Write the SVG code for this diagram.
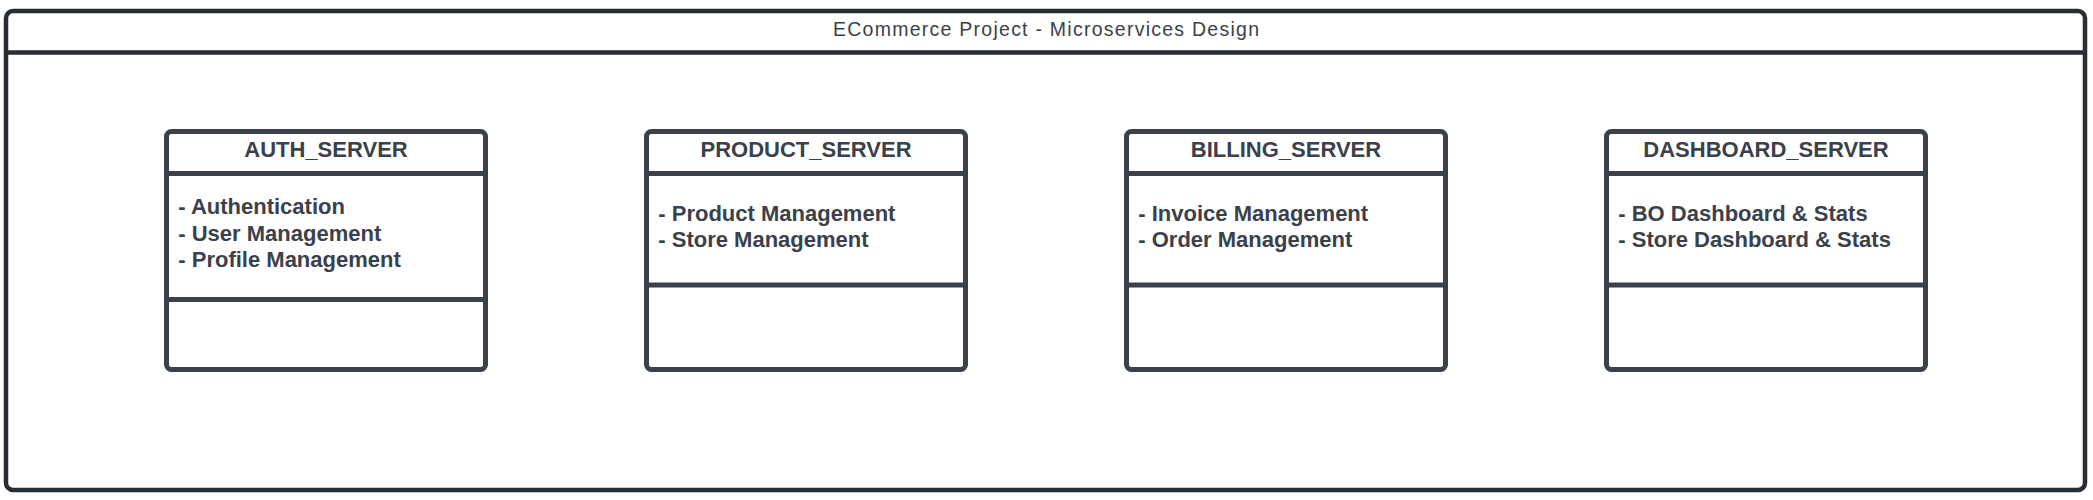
<svg xmlns="http://www.w3.org/2000/svg" width="2093" height="500" viewBox="0 0 2093 500">
<style>
.frame{fill:#fff;stroke:#282c33;stroke-width:4.5}
.box{fill:#fff;stroke:#3a414a;stroke-width:5}
.div{stroke:#3a414a;stroke-width:5}
.title{font-family:"Liberation Sans",Arial,sans-serif;font-size:19.5px;fill:#3a414a;text-anchor:middle}
.hdr{font-family:"Liberation Sans",Arial,sans-serif;font-size:22px;font-weight:bold;fill:#3a414a;text-anchor:middle}
.item{font-family:"Liberation Sans",Arial,sans-serif;font-size:22px;font-weight:bold;fill:#3a414a}
</style>
<rect width="2093" height="500" fill="#fff"/>
<g id="frame">
<rect class="frame" x="6" y="11" width="2079" height="479" rx="7"/>
<line x1="6" y1="52.5" x2="2085" y2="52.5" stroke="#282c33" stroke-width="4.5"/>
<text class="title" x="1046" y="36" textLength="426" lengthAdjust="spacing">ECommerce Project - Microservices Design</text>
</g>
<g id="auth_server">
<rect class="box" x="166.5" y="131.5" width="319" height="238" rx="5"/>
<line class="div" x1="166.5" y1="173.5" x2="485.5" y2="173.5"/>
<line class="div" x1="166.5" y1="299.5" x2="485.5" y2="299.5"/>
<text class="hdr" x="326" y="157.3">AUTH_SERVER</text>
<text class="item" x="178.3" y="214.3">- Authentication</text>
<text class="item" x="178.3" y="240.7">- User Management</text>
<text class="item" x="178.3" y="267">- Profile Management</text>
</g>
<g id="product_server">
<rect class="box" x="646.5" y="131.5" width="319" height="238" rx="5"/>
<line class="div" x1="646.5" y1="173.5" x2="965.5" y2="173.5"/>
<line class="div" x1="646.5" y1="285" x2="965.5" y2="285"/>
<text class="hdr" x="806" y="157.3">PRODUCT_SERVER</text>
<text class="item" x="658.3" y="220.7">- Product Management</text>
<text class="item" x="658.3" y="247.3">- Store Management</text>
</g>
<g id="billing_server">
<rect class="box" x="1126.5" y="131.5" width="319" height="238" rx="5"/>
<line class="div" x1="1126.5" y1="173.5" x2="1445.5" y2="173.5"/>
<line class="div" x1="1126.5" y1="285" x2="1445.5" y2="285"/>
<text class="hdr" x="1286" y="157.3">BILLING_SERVER</text>
<text class="item" x="1138.3" y="220.7">- Invoice Management</text>
<text class="item" x="1138.3" y="247.3">- Order Management</text>
</g>
<g id="dashboard_server">
<rect class="box" x="1606.5" y="131.5" width="319" height="238" rx="5"/>
<line class="div" x1="1606.5" y1="173.5" x2="1925.5" y2="173.5"/>
<line class="div" x1="1606.5" y1="285" x2="1925.5" y2="285"/>
<text class="hdr" x="1766" y="157.3">DASHBOARD_SERVER</text>
<text class="item" x="1618.3" y="220.7">- BO Dashboard &amp; Stats</text>
<text class="item" x="1618.3" y="247.3">- Store Dashboard &amp; Stats</text>
</g>
<g id="connectors"></g>
</svg>
